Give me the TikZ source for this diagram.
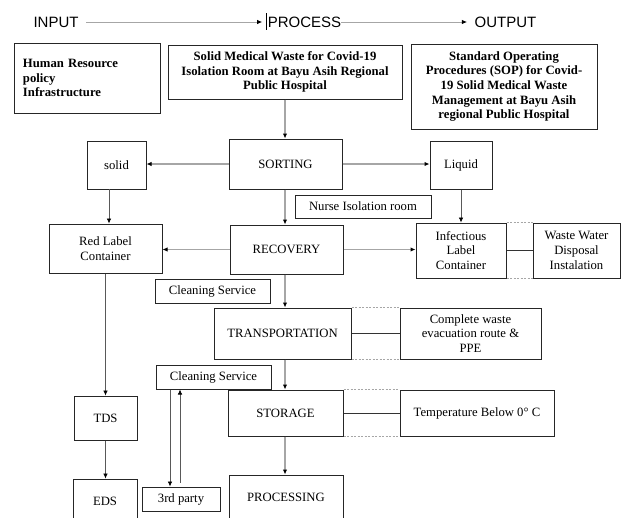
\documentclass[tikz,border=0pt]{standalone}
\usepackage{fontspec}
\setmainfont{Liberation Serif}
\setsansfont{Liberation Sans}
\usetikzlibrary{arrows.meta}

\tikzset{dims/.style 2 args = { minimum width = #1pt, minimum height = #2pt }}

\begin{document}
\begin{tikzpicture}[
      x = 1pt, y = -1pt,
      >={Latex[length = 5pt, width = 4.5pt, color = black]},
      box/.style = {
        draw = black!85, line width = 1pt,
        inner sep = 0pt, align = center,
        font = \fontsize{12.7}{14.7}\selectfont
      },
      bold/.style = { font = \fontsize{12.7}{14.7}\selectfont\bfseries },
      head/.style = { inner sep = 0pt, font = \sffamily\fontsize{15}{18}\selectfont },
      flow/.style = { ->, draw = black!35, line width = 1.2pt },
      link/.style = { ->, draw = black!65, line width = 0.7pt },
      tie/.style = { draw = black!80, line width = 1pt },
      gap/.style = { draw = black!35, dash pattern = on 2pt off 1.5pt, line width = 0.8pt },
    ]

    \useasboundingbox (0,0) rectangle (621,517);
    \clip (0,0) rectangle (621,517);

    \node[head] (input) at (56,22) {INPUT};
    \node[head] (process) at (304.5,22) {PROCESS};
    \node[head] (output) at (505.5,22) {OUTPUT};
    \draw[line width = 0.6pt] (266,13) -- (266,30);
    \draw[flow, line width = 0.8pt, shorten <= 7.5pt, shorten >= 5.5pt] (input) -- (process);
    \draw[flow, line width = 0.8pt, shorten >= 7.5pt] (process) -- (output);

    \node[box, bold, dims = {146}{70}, text width = 128pt, align = left] (human) at (87,78)
      {Human Resource\\policy\\Infrastructure};
    \node[box, bold, dims = {234}{54}] (waste) at (285,72)
      {Solid Medical Waste for Covid-19\\Isolation Room at Bayu Asih Regional\\Public Hospital};
    \node[box, bold, dims = {186}{85}] (sop) at (504,86.5)
      {Standard Operating\\Procedures (SOP) for Covid-\\19 Solid Medical Waste\\Management at Bayu Asih\\regional Public Hospital};

    \node[box, dims = {113}{50}] (sorting) at (285.5,164) {SORTING};
    \node[box, dims = {59}{48}] (solid) at (116.5,165) {solid};
    \node[box, dims = {62}{48}] (liquid) at (461,165) {Liquid};
    \node[box, dims = {136}{23}] (nurse) at (363,206.5) {Nurse Isolation room};
    \node[box, dims = {113}{49}] (red) at (105.5,248.5) {Red Label\\Container};
    \node[box, dims = {113}{49}] (recovery) at (286.5,249.5) {RECOVERY};
    \node[box, dims = {90}{55}] (infectious) at (461,250.5) {Infectious\\Label\\Container};
    \node[box, dims = {87}{55}] (disposal) at (576.5,250.5) {Waste Water\\Disposal\\Instalation};
    \node[box, dims = {115}{24}] (cleanA) at (212.5,291) {Cleaning Service};
    \node[box, dims = {137}{51}] (transport) at (282.5,333.5) {TRANSPORTATION};
    \node[box, dims = {141}{51}] (route) at (470.5,333.5) {Complete waste\\evacuation route \&\\PPE};
    \node[box, dims = {115}{24}] (cleanB) at (213.5,377) {Cleaning Service};
    \node[box, dims = {115}{46}] (storage) at (285.5,413) {STORAGE};
    \node[box, dims = {154}{46}] (temp) at (477,413) {Temperature Below 0\textdegree{} C};
    \node[box, dims = {63}{44}] (tds) at (105.5,418) {TDS};
    \node[box, dims = {64}{44}] (eds) at (105,501) {EDS};
    \node[box, dims = {78}{24}] (party) at (181,499) {3rd party};
    \node[box, dims = {114}{44}] (processing) at (286,497) {PROCESSING};

    \coordinate (axis) at (285,0);
    \coordinate (solidfoot) at (109,189);
    \coordinate (down) at (170,0);
    \coordinate (up) at (180,0);

    \draw[flow] (waste.south -| axis) -- (sorting.north -| axis);
    \draw[flow] (sorting.west) -- (sorting.west -| solid.east);
    \draw[flow] (sorting.east) -- (sorting.east -| liquid.west);
    \draw[link] (solidfoot) -- (solidfoot |- red.north);
    \draw[flow] (sorting.south -| axis) -- (recovery.north -| axis);
    \draw[link] (liquid) -- (infectious);
    \draw[flow] (recovery.west) -- (recovery.west -| red.east);
    \draw[flow] (recovery.east) -- (recovery.east -| infectious.west);
    \draw[tie] (infectious.east) -- (disposal.west);
    \draw[gap] (infectious.north east) -- (disposal.north west);
    \draw[gap] (infectious.south east) -- (disposal.south west);
    \draw[link] (red.south) -- (red.south |- tds.north);
    \draw[link] (tds.south) -- (tds.south |- eds.north);
    \draw[flow] (recovery.south -| axis) -- (transport.north -| axis);
    \draw[tie] (transport.east) -- (route.west);
    \draw[gap] (transport.north east) -- (route.north west);
    \draw[gap] (transport.south east) -- (route.south west);
    \draw[flow] (transport.south -| axis) -- (storage.north -| axis);
    \draw[tie] (storage.east) -- (temp.west);
    \draw[gap] (storage.north east) -- (temp.north west);
    \draw[gap] (storage.south east) -- (temp.south west);
    \draw[flow] (storage.south -| axis) -- (processing.north -| axis);
    \draw[link] (cleanB.south -| down) -- (party.north -| down);
    \draw[link, shorten <= 4pt] (party.north -| up) -- (cleanB.south -| up);
  \end{tikzpicture}
\end{document}
